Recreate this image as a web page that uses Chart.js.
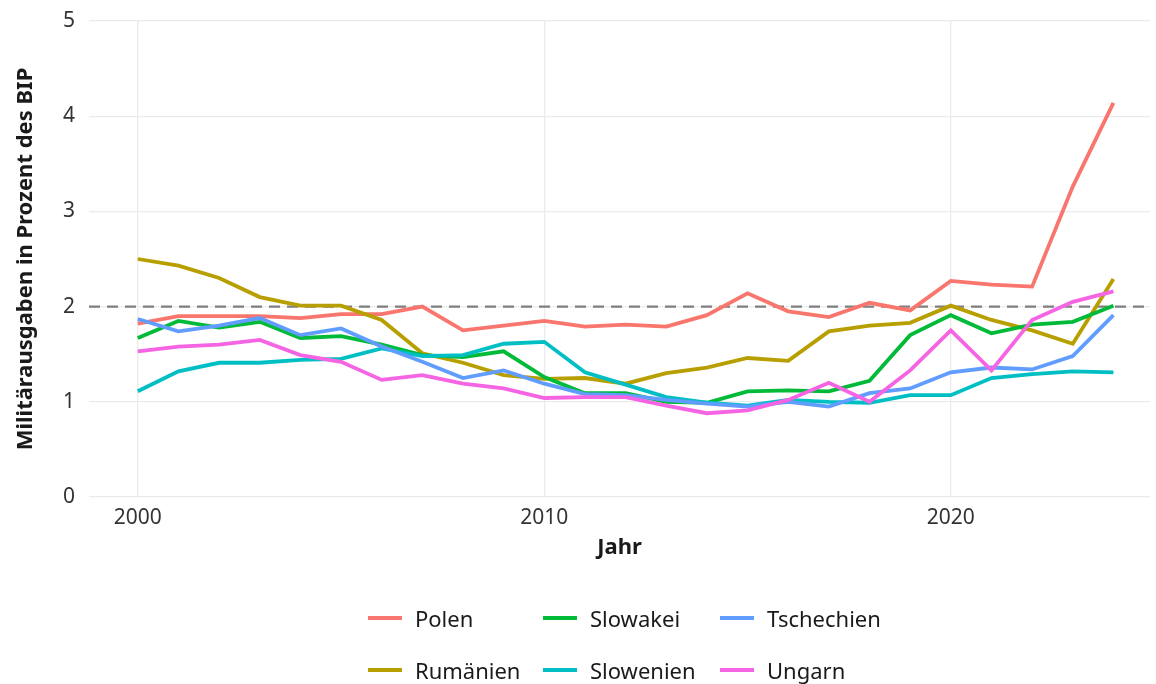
<!DOCTYPE html>
<html>
<head>
<meta charset="utf-8">
<script src="https://cdn.jsdelivr.net/npm/chart.js@4"></script>
<style>
  html, body { margin: 0; padding: 0; background: #ffffff; }
  #wrap { position: relative; width: 1156px; height: 684px; font-family: "Noto Sans", "Open Sans", sans-serif; }
  #c { position: absolute; left: 0; top: 0; }
  .lg { position: absolute; display: flex; align-items: center; font-size: 22px; color: #1a1a1a; height: 30px; white-space: nowrap; }
  .sw { display: inline-block; width: 34px; height: 4px; margin-right: 13px; }
</style>
</head>
<body>
<div id="wrap">
  <canvas id="c" width="1156" height="684"></canvas>
  <div id="legend"></div>
</div>
<script>
const years = [2000,2001,2002,2003,2004,2005,2006,2007,2008,2009,2010,2011,2012,2013,2014,2015,2016,2017,2018,2019,2020,2021,2022,2023,2024];
const seriesNames = ["Polen","Rumänien","Slowakei","Slowenien","Tschechien","Ungarn"];
const polen      = [1.82,1.90,1.90,1.90,1.88,1.92,1.92,2.00,1.75,1.80,1.85,1.79,1.81,1.79,1.91,2.14,1.95,1.89,2.04,1.96,2.27,2.23,2.21,3.26,4.14];
const rumaenien  = [2.50,2.43,2.30,2.10,2.01,2.01,1.86,1.51,1.41,1.28,1.24,1.25,1.19,1.30,1.36,1.46,1.43,1.74,1.80,1.83,2.01,1.86,1.75,1.61,2.29];
const slowakei   = [1.67,1.85,1.78,1.84,1.67,1.69,1.60,1.49,1.47,1.53,1.26,1.09,1.09,1.00,0.99,1.11,1.12,1.11,1.22,1.70,1.91,1.72,1.81,1.84,2.01];
const slowenien  = [1.11,1.32,1.41,1.41,1.44,1.45,1.56,1.48,1.49,1.61,1.63,1.31,1.18,1.05,0.99,0.96,1.02,1.00,0.99,1.07,1.07,1.25,1.29,1.32,1.31];
const tschechien = [1.87,1.74,1.80,1.88,1.70,1.77,1.58,1.42,1.25,1.33,1.19,1.08,1.07,1.02,0.98,0.95,1.00,0.95,1.09,1.14,1.31,1.36,1.34,1.48,1.91];
const ungarn     = [1.53,1.58,1.60,1.65,1.49,1.42,1.23,1.28,1.19,1.14,1.04,1.05,1.05,0.96,0.88,0.91,1.02,1.20,1.00,1.33,1.75,1.33,1.86,2.05,2.16];
const xTicks = [2000,2010,2020];
const yTicks = [0,1,2,3,4,5];
const natoTarget = 2;

const colors = ["#F8766D","#B79F00","#00BA38","#00BFC4","#619CFF","#F564E3"];
const allSeries = [polen, rumaenien, slowakei, slowenien, tschechien, ungarn];
const xMin = 1998.8, xMax = 2024.9;

const datasets = allSeries.map((vals, i) => ({
  label: seriesNames[i],
  data: years.map((y, j) => ({x: y, y: vals[j]})),
  borderColor: colors[i],
  backgroundColor: colors[i],
  borderWidth: 3.8,
  pointRadius: 0,
  tension: 0,
  fill: false,
  order: allSeries.length - i
}));
datasets.push({
  label: "Ziel",
  data: [{x: xMin, y: natoTarget}, {x: xMax, y: natoTarget}],
  borderColor: "#7f7f7f",
  borderWidth: 2.2,
  borderDash: [11, 7],
  pointRadius: 0,
  fill: false,
  order: 100
});

new Chart(document.getElementById("c"), {
  type: "line",
  data: { datasets },
  options: {
    responsive: false,
    animation: false,
    layout: { padding: { left: 0, right: 6, top: 21, bottom: 123 } },
    plugins: { legend: { display: false }, tooltip: { enabled: false } },
    scales: {
      x: {
        type: "linear",
        min: xMin, max: xMax,
        afterBuildTicks: s => { s.ticks = xTicks.map(v => ({value: v})); },
        afterFit: s => { s.height = 64; s.paddingLeft = 0; s.paddingRight = 0; },
        grid: { color: "#ebebeb", lineWidth: 1.3, drawTicks: false },
        border: { display: false },
        ticks: { font: { family: "Noto Sans", size: 21 }, color: "#333333", padding: 8, callback: v => String(v) },
        title: { display: true, text: "Jahr", font: { family: "Noto Sans", size: 22, weight: "bold" }, color: "#1a1a1a", padding: { top: 0, bottom: 0 } }
      },
      y: {
        min: 0, max: 5,
        afterBuildTicks: s => { s.ticks = yTicks.map(v => ({value: v})); },
        afterFit: s => { s.width = 89; s.paddingTop = 0; s.paddingBottom = 0; },
        grid: { color: "#ebebeb", lineWidth: 1.3, drawTicks: false },
        border: { display: false },
        ticks: { font: { family: "Noto Sans", size: 21 }, color: "#333333", padding: 14 },
        title: { display: true, text: "Militärausgaben in Prozent des BIP", font: { family: "Noto Sans", size: 22, weight: "bold" }, color: "#1a1a1a", padding: { top: 13, bottom: 0 } }
      }
    }
  }
});

// legend (ggplot-style, column-aligned)
const colX = [368, 543, 720];
const rowY = [603, 655];
const legend = document.getElementById("legend");
seriesNames.forEach((name, i) => {
  const col = Math.floor(i / 2), row = i % 2;
  const d = document.createElement("div");
  d.className = "lg";
  d.style.left = colX[col] + "px";
  d.style.top = rowY[row] + "px";
  const sw = document.createElement("span");
  sw.className = "sw";
  sw.style.background = colors[i];
  d.appendChild(sw);
  d.appendChild(document.createTextNode(name));
  legend.appendChild(d);
});
</script>
</body>
</html>
